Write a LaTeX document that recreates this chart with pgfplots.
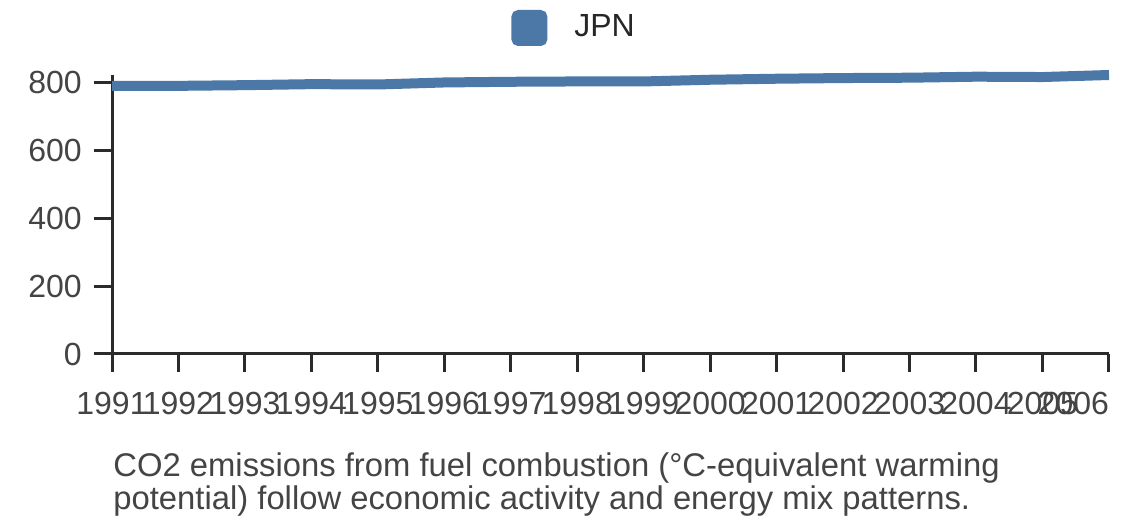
\documentclass[border=0pt]{standalone}
\usepackage{fontspec}
\setmainfont{Liberation Sans}
\usepackage{pgfplots}
\pgfplotsset{compat=1.18}
\definecolor{series}{HTML}{4C78A8}
\definecolor{axisc}{HTML}{2B2B2B}
\definecolor{labc}{HTML}{444444}
\begin{document}
\fontsize{16pt}{19pt}\selectfont
\begin{tikzpicture}
\useasboundingbox (0,0) rectangle (570pt,264pt);
\begin{axis}[
  at={(56pt,87pt)}, anchor=south west,
  width=498.5pt, height=139.5pt, scale only axis,
  xmin=1991, xmax=2006, ymin=0, ymax=823,
  axis x line=bottom, axis y line=left,
  axis line style={-, axisc, line width=1.5pt},
  x axis line style={-}, y axis line style={-},
  clip=false,
  xtick={1991,...,2006},
  xticklabels={1991,1992,1993,1994,1995,1996,1997,1998,1999,2000,2001,2002,2003,2004,2005,\makebox[0pt][r]{2006}},
  ytick={0,200,400,600,800},
  tick align=outside,
  major tick length=9pt,
  tick style={axisc, line width=1.5pt},
  /pgf/number format/assume math mode=true,
  /pgf/number format/1000 sep={},
  every tick label/.append style={font=\fontsize{16pt}{19pt}\selectfont, text=labc},
  yticklabel style={inner sep=0pt, xshift=-6pt},
  xticklabel style={inner sep=0pt, yshift=-10pt},
  legend style={draw=none, fill=none, at={(199.5pt,163pt)}, anchor=west, legend columns=1,
    font=\fontsize{16pt}{19pt}\selectfont, text=black!85, inner sep=0pt,
    /tikz/every even column/.append style={column sep=0pt}},
  legend cell align=left,
  legend image code/.code={\fill[series, rounded corners=1.2pt] (0pt,-6.5pt) rectangle (13pt,6.5pt);},
]
\addplot[series, line width=5pt, no marks] coordinates {
(1991,791) (1992,791) (1993,793) (1994,796) (1995,795) (1996,801) (1997,803) (1998,804)
(1999,804) (2000,809) (2001,812) (2002,814) (2003,815) (2004,818) (2005,817) (2006,823)
};
\addlegendentry{\hspace{11.5pt}JPN}
\end{axis}
\node[anchor=base west, inner sep=0pt, text=labc, font=\fontsize{16.4pt}{19pt}\selectfont] at (56.5pt,25.5pt) {CO2 emissions from fuel combustion (°C-equivalent warming};
\node[anchor=base west, inner sep=0pt, text=labc, font=\fontsize{16.4pt}{19pt}\selectfont] at (56.5pt,9pt) {potential) follow economic activity and energy mix patterns.};
\end{tikzpicture}
\end{document}
